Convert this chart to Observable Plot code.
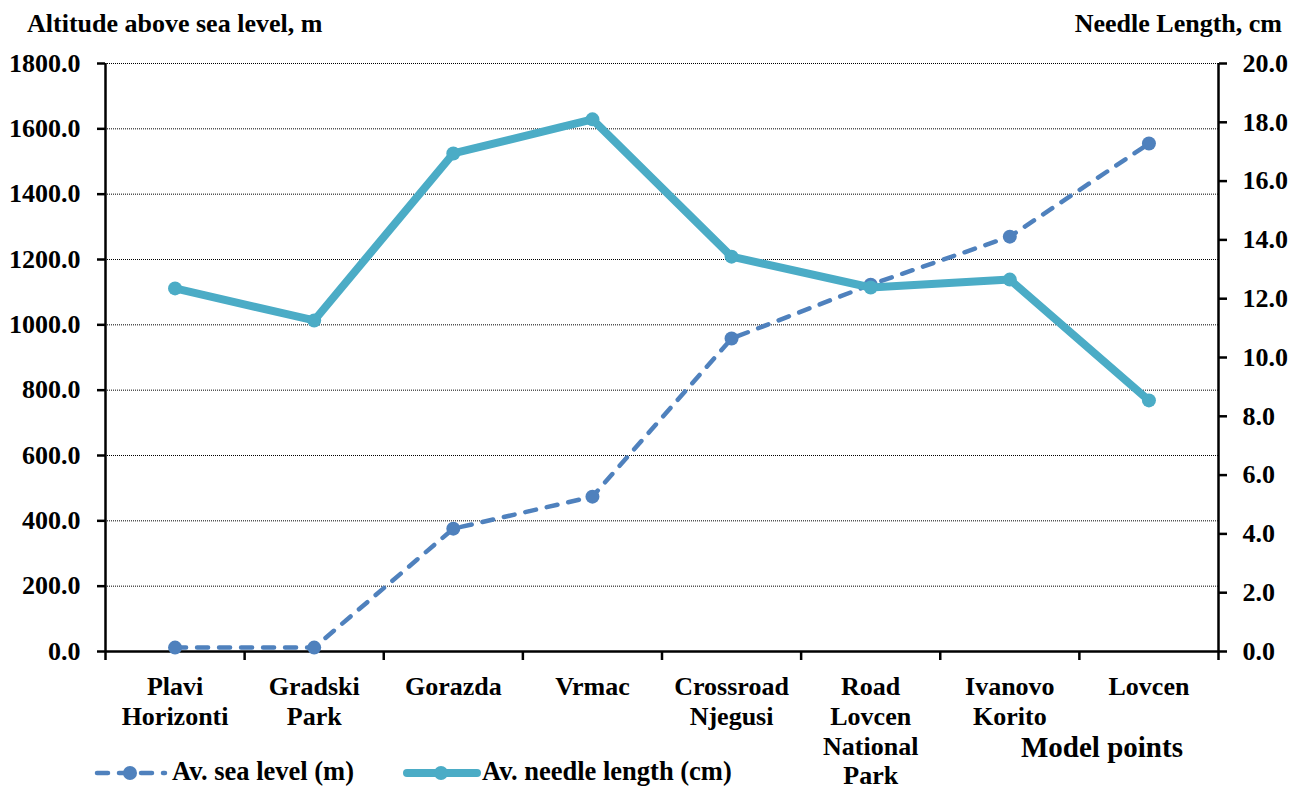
<!DOCTYPE html>
<html>
<head>
<meta charset="utf-8">
<script src="https://cdn.jsdelivr.net/npm/d3@7"></script>
<script src="https://cdn.jsdelivr.net/npm/@observablehq/plot@0.6"></script>
<style>
  html, body { margin: 0; padding: 0; background: #fff; }
  #wrap { position: relative; width: 1290px; height: 787px; overflow: hidden; font-family: "Liberation Serif", "Times New Roman", serif; font-weight: bold; color: #000; }
  .lbl { position: absolute; white-space: nowrap; line-height: 1; }
  .sw { position: absolute; }
</style>
</head>
<body>
<div id="wrap">
  <div id="chart"></div>
  <div class="lbl" style="left:27px; top:11px; font-size:26px;">Altitude above sea level, m</div>
  <div class="lbl" style="right:8px; top:11px; font-size:26px;">Needle Length, cm</div>
  <div class="lbl" style="left:1021px; top:733px; font-size:29px;">Model points</div>
  <svg class="sw" style="left:88px; top:761px;" width="84" height="24"><line x1="9" y1="12" x2="77" y2="12" stroke="#4F81BD" stroke-width="4.5" stroke-dasharray="11,11" stroke-linecap="round"/><circle cx="42" cy="12" r="7" fill="#4F81BD"/></svg>
  <div class="lbl" style="left:172px; top:758px; font-size:26.5px;">Av. sea level (m)</div>
  <svg class="sw" style="left:400px; top:761px;" width="84" height="24"><line x1="7" y1="12" x2="77" y2="12" stroke="#4BACC6" stroke-width="8" stroke-linecap="round"/><circle cx="41" cy="12" r="7" fill="#4BACC6"/></svg>
  <div class="lbl" style="left:482px; top:758px; font-size:26.5px;">Av. needle length (cm)</div>
</div>
<script>
const categories = ["Plavi\nHorizonti", "Gradski\nPark", "Gorazda", "Vrmac", "Crossroad\nNjegusi", "Road\nLovcen\nNational\nPark", "Ivanovo\nKorito", "Lovcen"];
const seaLevel = [12, 12, 376, 474, 958, 1123, 1270, 1555];
const needleLength = [12.35, 11.26, 16.94, 18.1, 13.43, 12.38, 12.65, 8.54];
const leftTicks = [0, 200, 400, 600, 800, 1000, 1200, 1400, 1600, 1800];
const rightTicks = [0, 2, 4, 6, 8, 10, 12, 14, 16, 18, 20];

const k = 1800 / 20;
const data = categories.map((c, i) => ({i, c, sea: seaLevel[i], needle: needleLength[i]}));

const chart = Plot.plot({
  width: 1290,
  height: 787,
  marginLeft: 105,
  marginRight: 72,
  marginTop: 63,
  marginBottom: 136,
  style: {fontFamily: "'Liberation Serif', 'Times New Roman', serif", fontWeight: "bold", fontSize: "26px", color: "#000", background: "transparent", overflow: "visible"},
  x: {type: "linear", domain: [-0.5, categories.length - 0.5]},
  y: {domain: [0, 1800]},
  marks: [
    Plot.gridY(leftTicks.filter(d => d > 0), {stroke: "#000", strokeOpacity: 1, strokeWidth: 1, strokeDasharray: "1,1"}),
    Plot.axisY(leftTicks, {anchor: "left", tickFormat: d => d.toFixed(1), tickSize: 8, tickPadding: 17, strokeWidth: 2.5, label: null}),
    Plot.axisY(rightTicks.map(d => d * k), {anchor: "right", tickFormat: d => (d / k).toFixed(1), tickSize: 8, tickPadding: 16, strokeWidth: 2.5, label: null}),
    Plot.axisX(d3.range(categories.length), {anchor: "bottom", tickSize: 0, tickPadding: 22, tickFormat: i => categories[i], lineHeight: 1.15, label: null}),
    Plot.axisX(d3.range(-0.5, categories.length, 1), {anchor: "bottom", tickSize: 9, strokeWidth: 2.5, tickFormat: () => "", label: null}),
    Plot.ruleX([-0.5, categories.length - 0.5], {stroke: "#000", strokeWidth: 2.5}),
    Plot.ruleY([0], {stroke: "#000", strokeWidth: 2.5}),
    Plot.line(data, {x: "i", y: "sea", stroke: "#4F81BD", strokeWidth: 4.5, strokeDasharray: "11,11", strokeLinecap: "round"}),
    Plot.dot(data, {x: "i", y: "sea", r: 7, fill: "#4F81BD", stroke: null}),
    Plot.line(data, {x: "i", y: d => d.needle * k, stroke: "#4BACC6", strokeWidth: 8, strokeLinejoin: "round", strokeLinecap: "round"}),
    Plot.dot(data, {x: "i", y: d => d.needle * k, r: 7, fill: "#4BACC6", stroke: null})
  ]
});
document.getElementById("chart").appendChild(chart);
</script>
</body>
</html>
